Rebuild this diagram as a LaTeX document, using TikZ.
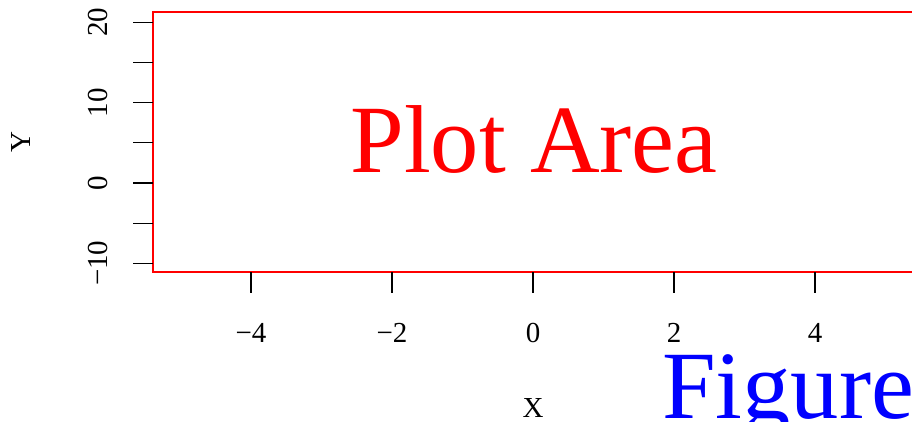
\documentclass[tikz,border=0pt]{standalone}
\usepackage{fontspec}
\setmainfont{Liberation Serif}
\definecolor{areared}{HTML}{FF0000}
\definecolor{figblue}{HTML}{0000FF}
\tikzset{
  ticklabel/.style={font=\fontsize{29}{34}\selectfont, inner sep=0pt},
  axistick/.style={black, line width=1.3pt},
  biglabel/.style={font=\fontsize{96.5}{100}\selectfont, inner sep=0pt},
}

\begin{document}
\begin{tikzpicture}[x=1pt, y=-1pt]
  \useasboundingbox (0,0) rectangle (912,422);
  \clip (0,0) rectangle (912,422);

  % ============ plot region frame (runs off the right edge) ============
  \draw[areared, line width=2pt] (153,12) rectangle (940,272);
  \node[areared, biglabel, anchor=base] (plotarea) at (534,173) {Plot Area};

  % ============ x axis ============
  \foreach \v/\t [count=\i] in {-4/−4, -2/−2, 0/0, 2/2, 4/4} {
    \draw[axistick] ({533+70.5*(\v)},272) -- ({533+70.5*(\v)},293);
    \node[ticklabel, anchor=base] (xtick\i) at ({533+70.5*(\v)},342) {\t};
  }
  \node[ticklabel, anchor=base] (xname) at (533,417) {X};

  % ============ y axis ============
  \foreach \v in {-10,-5,...,20}
    \draw[axistick] (133,{183-8.03*(\v)}) -- (153,{183-8.03*(\v)});
  \foreach \v/\t [count=\i] in {-10/−10, 0/0, 10/10, 20/20}
    \node[ticklabel, rotate=90, anchor=base] (ytick\i) at (107,{183-8.03*(\v)}) {\t};
  \node[ticklabel, rotate=90, anchor=base] (yname) at (30,142) {Y};

  % figure region label, cut by the bottom edge
  \node[figblue, biglabel, anchor=base west] (figlabel) at (662,418) {Figure};
\end{tikzpicture}
\end{document}
